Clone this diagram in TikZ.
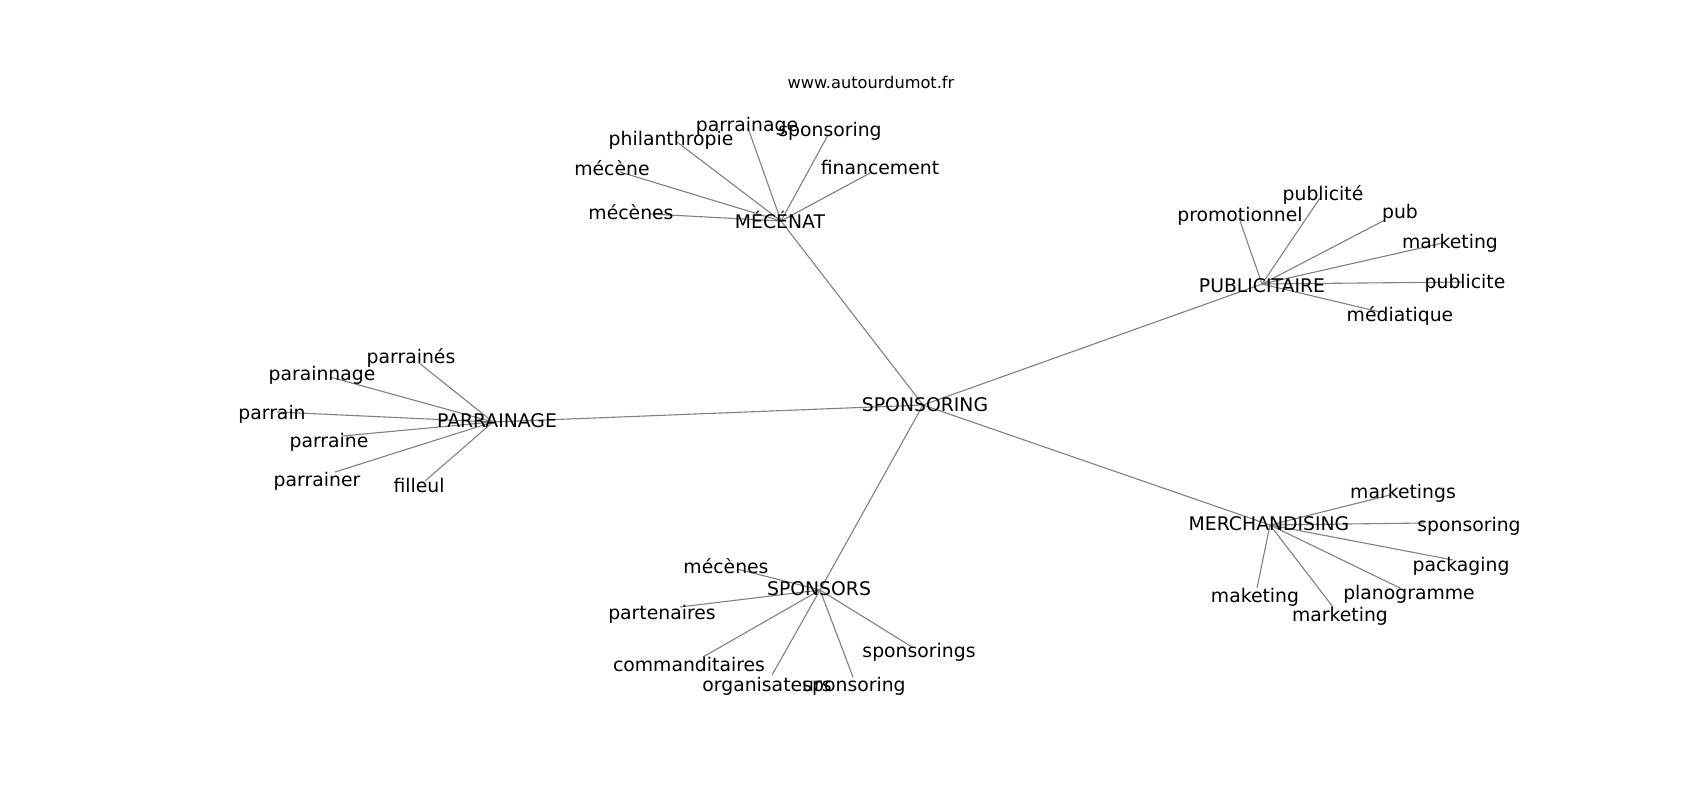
\documentclass[tikz,border=0pt]{standalone}
\usepackage{fontspec}
\setmainfont{DejaVu Sans}
\definecolor{edgegray}{RGB}{128,128,128}
\begin{document}
\begin{tikzpicture}[x=1pt,y=-1pt,
  lbl/.style={inner sep=0pt, anchor=center, yshift=-1.5pt, font=\fontsize{18.8}{22}\selectfont, text height=13.7pt, text depth=0pt},
  ttl/.style={inner sep=0pt, anchor=center, font=\fontsize{16.2}{19}\selectfont, text height=11.8pt, text depth=0pt},
  link/.style={draw=edgegray, line width=1.1pt}]
\useasboundingbox (0,0) rectangle (1700,800);
% graph points
\coordinate (sp) at (923,405);
\coordinate (mec) at (781,221);
\coordinate (pub) at (1262,284);
\coordinate (par) at (493,422);
\coordinate (sps) at (820,590);
\coordinate (mer) at (1270,525);
% MECENAT leaves
\coordinate (mecA) at (650,214);
\coordinate (mecB) at (620,172);
\coordinate (mecC) at (677,142);
\coordinate (mecD) at (748,128);
\coordinate (mecE) at (828,135);
\coordinate (mecF) at (872,172);
% PUBLICITAIRE leaves
\coordinate (pubA) at (1239,218);
\coordinate (pubB) at (1320,198);
\coordinate (pubC) at (1385,220);
\coordinate (pubD) at (1443,243);
\coordinate (pubE) at (1463,282);
\coordinate (pubF) at (1380,312);
% PARRAINAGE leaves
\coordinate (parA) at (419,363);
\coordinate (parB) at (330,377);
\coordinate (parC) at (277,412);
\coordinate (parD) at (342,436);
\coordinate (parE) at (335,472);
\coordinate (parF) at (425,481);
% SPONSORS leaves
\coordinate (spsA) at (737,569);
\coordinate (spsB) at (680,607);
\coordinate (spsC) at (703,657);
\coordinate (spsD) at (772,675);
\coordinate (spsE) at (853,677);
\coordinate (spsF) at (912,647);
% MERCHANDISING leaves
\coordinate (merA) at (1390,495);
\coordinate (merB) at (1424,523);
\coordinate (merC) at (1453,560);
\coordinate (merD) at (1400,588);
\coordinate (merE) at (1333,607);
\coordinate (merF) at (1257,588);
% edges
\foreach \h in {mec,pub,par,sps,mer} \draw[link] (sp) -- (\h);
\foreach \l in {A,B,C,D,E,F} {
  \draw[link] (mec) -- (mec\l);
  \draw[link] (pub) -- (pub\l);
  \draw[link] (par) -- (par\l);
  \draw[link] (sps) -- (sps\l);
  \draw[link] (mer) -- (mer\l);
}
% labels
\node[ttl] (title) at (871,83) {www.autourdumot.fr};
\node[lbl] (Lsp) at (925,403) {SPONSORING};
\node[lbl] (Lmec) at (780,220) {MÉCÉNAT};
\node[lbl] (Lpub) at (1262,284) {PUBLICITAIRE};
\node[lbl] (Lpar) at (497,419) {PARRAINAGE};
\node[lbl] (Lsps) at (819,587) {SPONSORS};
\node[lbl] (Lmer) at (1269,522) {MERCHANDISING};
\node[lbl] (LmecA) at (631,211) {mécènes};
\node[lbl] (LmecB) at (612,167) {mécène};
\node[lbl] (LmecC) at (671,137) {philanthropie};
\node[lbl] (LmecD) at (747,123) {parrainage};
\node[lbl] (LmecE) at (830,128) {sponsoring};
\node[lbl] (LmecF) at (880,166) {financement};
\node[lbl] (LpubA) at (1240,213) {promotionnel};
\node[lbl] (LpubB) at (1323,192) {publicité};
\node[lbl] (LpubC) at (1400,210) {pub};
\node[lbl] (LpubD) at (1450,240) {marketing};
\node[lbl] (LpubE) at (1465,280) {publicite};
\node[lbl] (LpubF) at (1400,313) {médiatique};
\node[lbl] (LparA) at (411,355) {parrainés};
\node[lbl] (LparB) at (322,372) {parainnage};
\node[lbl] (LparC) at (272,411) {parrain};
\node[lbl] (LparD) at (329,439) {parraine};
\node[lbl] (LparE) at (317,478) {parrainer};
\node[lbl] (LparF) at (419,484) {filleul};
\node[lbl] (LspsA) at (726,565) {mécènes};
\node[lbl] (LspsB) at (662,611) {partenaires};
\node[lbl] (LspsC) at (689,663) {commanditaires};
\node[lbl] (LspsD) at (767,683) {organisateurs};
\node[lbl] (LspsE) at (854,683) {sponsoring};
\node[lbl] (LspsF) at (919,649) {sponsorings};
\node[lbl] (LmerA) at (1403,490) {marketings};
\node[lbl] (LmerB) at (1469,523) {sponsoring};
\node[lbl] (LmerC) at (1461,563) {packaging};
\node[lbl] (LmerD) at (1409,591) {planogramme};
\node[lbl] (LmerE) at (1340,613) {marketing};
\node[lbl] (LmerF) at (1255,594) {maketing};
\end{tikzpicture}
\end{document}
